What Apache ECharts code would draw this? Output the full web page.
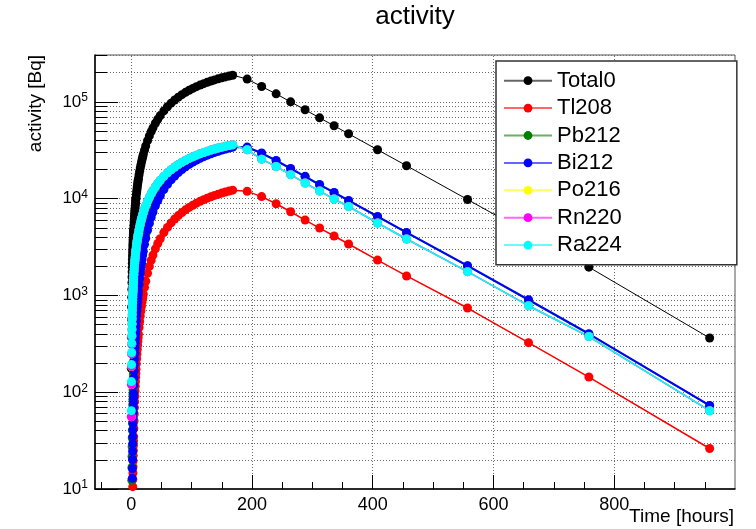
<!DOCTYPE html>
<html><head><meta charset="utf-8">
<script src="https://cdn.jsdelivr.net/npm/echarts@6/dist/echarts.min.js"></script>
<style>html,body{margin:0;padding:0;background:#fff}#c{width:756px;height:529px}</style>
</head><body><div id="c"></div>
<script>
// time points [hours]
const hours = [0.1667,0.3333,0.5,0.6667,0.8333,1,1.1667,1.3333,1.5,1.6667,1.8333,2,2.1667,2.3333,2.5,2.6667,2.8333,3,3.1667,3.3333,3.5,3.6667,3.8333,4,
  4.3333,4.6667,5,5.3333,5.6667,6,6.3333,6.6667,7,7.3333,7.6667,8,
  8.5,9,9.5,10,10.5,11,11.5,12,
  13,14,15,16,17,18,19,20,
  22,24,27,30,33,36,40,44,48,
  54,60,66,72,78,84,90,96,102,108,114,120,126,132,138,144,150,156,162,168,
  192,216,240,264,288,312,336,360,408,456,557,658,758,958];

const total0 = [176.5,370.8,565.8,761.4,957.8,1154.9,1353.0,1551.9,1751.7,1952.5,2154.3,2357.0,2560.8,2765.6,2971.3,3178.4,3386.2,3595.0,3805.0,4016.0,4228.0,4440.9,4654.9,4869.8,
  5303.0,5739.9,6180.8,6625.4,7073.5,7525.3,7980.6,8439.4,8901.6,9366.6,9834.8,10305.8,
  11018.2,11736.7,12461.1,13191.2,13926.7,14667.2,15412.3,16161.4,
  17673.7,19200.2,20740.2,22292,23853.6,25423.5,27000.7,28583.9,
  31762.5,34951.6,39737.6,44509,49246,53942,60112,66162,72083,
  80699,88986,96930,104542,111819,118772,125416,131758,137814,143590,149100,154359,159375,164159,168721,173074,177225,181185,184964,188564,
  172000,144000,121000,100000,82800,68400,56600,46800,32000,21900,9800,4370,1960,363];

const tl208 = [0.00465,0.0361,0.1182,0.2718,0.5153,0.8648,1.334,1.936,2.680,3.576,4.633,5.855,7.249,8.816,10.57,12.50,14.62,16.94,19.44,22.13,25.01,28.09,31.35,34.81,
  42.30,50.57,59.59,69.33,79.82,91.00,102.9,115.5,128.8,142.7,157.3,172.5,
  196.4,221.7,248.3,276.1,305.1,335.3,366.5,398.8,
  466.4,537.8,612.6,690.6,771.5,855.0,940.9,1029.1,
  1211,1400,1693,1995,2302,2612,3028,3442,3853,
  4457,5044,5611,6157,6681,7182,7662,8121,8559,8978,9377,9758,10122,10469,10800,11115,11416,11704,11978,12239,
  11900,10500,8860,7320,6010,4970,4110,3400,2320,1590,741,325,143.5,26.2];

const pb212 = [0.349,1.389,3.114,5.514,8.578,12.31,16.68,21.70,27.36,33.64,40.54,48.06,56.17,64.89,74.20,84.08,94.54,105.6,117.2,129.3,142.0,155.2,169.0,183.3,
  213.5,245.6,279.8,315.9,353.8,393.7,435.2,478.6,523.7,570.3,618.6,668.5,
  746.1,827.1,911.3,998.6,1088.6,1181.6,1277.3,1375.6,
  1579.5,1792.6,2014.1,2243.4,2479.7,2722.4,2971.0,3224.9,
  3747,4285,5114,5962,6822,7689,8846,9996,11133,
  12804,14425,15988,17492,18934,20315,21636,22898,24104,25255,26354,27402,28402,29357,30267,31135,31963,32754,33507,34226,
  33700,29200,24500,20300,16800,13800,11500,9470,6470,4430,2010,892,397,72.2];

const bi212 = [0.01295,0.1004,0.3288,0.7562,1.434,2.406,3.712,5.386,7.457,9.950,12.89,16.29,20.17,24.53,29.41,34.79,40.69,47.12,54.08,61.57,69.59,78.15,87.24,96.87,
  117.7,140.7,165.8,192.9,222.1,253.2,286.4,321.4,358.3,397.1,437.6,479.9,
  546.6,617.0,690.9,768.3,849.0,932.9,1019.8,1109.7,
  1297.8,1496.4,1704.5,1921.5,2146.5,2378.9,2618.1,2863.5,
  3371,3896,4711,5551,6405,7269,8425,9578,10720,
  12402,14035,15613,17131,18588,19983,21319,22595,23815,24979,26090,27151,28163,29128,30049,30927,31765,32564,33327,34054,
  34100,29600,24800,20500,17000,14000,11600,9580,6550,4480,2030,903,402,73.1];

const po216 = [55.85,120.23,184.53,248.74,312.87,376.91,440.87,504.75,568.52,632.25,695.87,759.4,822.87,886.25,949.5,1012.8,1075.9,1138.9,1201.9,1264.8,1327.6,1390.3,1452.9,1515.4,
  1640.3,1764.8,1889.0,2012.9,2136.4,2259.6,2382.5,2505.1,2627.4,2749.3,2870.9,2992.1,
  3173.5,3354.1,3534.0,3713.2,3891.8,4069.6,4246.7,4422.9,
  4773.8,5121.6,5466.8,5809.3,6149.1,6486.2,6820.7,7152.6,
  7808,8454,9404,10331,11236,12121,13268,14379,15456,
  17009,18491,19903,21251,22536,23761,24930,26045,27109,28123,29090,30013,30893,31732,32532,33296,34024,34718,35381,36012,
  32000,25600,21500,17700,14500,12000,9910,8300,5600,3830,1760,783,376,64.4];

const rn220 = [55.85,120.23,184.53,248.74,312.87,376.91,440.87,504.75,568.52,632.25,695.87,759.4,822.87,886.25,949.5,1012.8,1075.9,1138.9,1201.9,1264.8,1327.6,1390.3,1452.9,1515.4,
  1640.3,1764.8,1889.0,2012.9,2136.4,2259.6,2382.5,2505.1,2627.4,2749.3,2870.9,2992.1,
  3173.5,3354.1,3534.0,3713.2,3891.8,4069.6,4246.7,4422.9,
  4773.8,5121.6,5466.8,5809.3,6149.1,6486.2,6820.7,7152.6,
  7808,8454,9404,10331,11236,12121,13268,14379,15456,
  17009,18491,19903,21251,22536,23761,24930,26045,27109,28123,29090,30013,30893,31732,32532,33296,34024,34718,35381,36012,
  32000,25600,21500,17700,14500,12000,9910,8300,5600,3830,1760,783,376,64.4];

const ra224 = [64.47,128.85,193.15,257.36,321.49,385.53,449.49,513.37,577.14,640.87,704.49,768.0,831.49,894.87,958.1,1021.4,1084.5,1147.5,1210.5,1273.4,1336.2,1398.9,1461.5,1524.0,
  1648.9,1773.4,1897.6,2021.5,2145.0,2268.2,2391.1,2513.7,2636.0,2757.9,2879.5,3000.7,
  3182.1,3362.7,3542.6,3721.8,3900.4,4078.2,4255.3,4431.5,
  4782.4,5130.2,5475.4,5817.9,6157.7,6494.8,6829.3,7161.2,
  7817,8463,9412,10340,11245,12130,13277,14388,15465,
  17018,18500,19912,21260,22545,23770,24939,26054,27118,28132,29099,30022,30902,31741,32541,33305,34033,34727,35390,36021,
  32000,25600,21500,17700,14500,12000,9910,8300,5600,3830,1760,783,376,64.4];

const seriesNames = ['Total0','Tl208','Pb212','Bi212','Po216','Rn220','Ra224'];
const xLabelValues = [0,200,400,600,800];
const xMinorTicks = [-50,50,100,150,250,300,350,450,500,550,650,700,750,850,900,950];
const yMajor = [10,100,1000,10000,100000];
const yMinor = [20,30,40,50,60,70,80,90,200,300,400,500,600,700,800,900,2000,3000,4000,5000,6000,7000,8000,9000,
  20000,30000,40000,50000,60000,70000,80000,90000,200000,300000];
const yGrid = [100,1000,10000,100000].concat(yMinor);
const X_MIN = -60, X_MAX = 1000, Y_MIN = 10, Y_MAX = 305000;

const FONT = '"Liberation Sans", Arial, Helvetica, sans-serif';
const colors = ['#000000','#ff0000','#008000','#0000ff','#ffff00','#ff00ff','#00ffff'];
const widths = [1,1.5,1.5,2,1.5,1.5,1.5];
const values = [total0,tl208,pb212,bi212,po216,rn220,ra224];

const GRID = {left:95, right:21, top:55, bottom:40};
const plotW = 756 - GRID.left - GRID.right;
const plotH = 529 - GRID.top - GRID.bottom;
const gridLine = {type:[1,2], color:'#6e6e6e', width:1};

const series = seriesNames.map((name,k)=>({
  name, type:'line', xAxisIndex:0, yAxisIndex:0,
  data: hours.map((h,i)=>[h, values[k][i]]),
  symbol:'circle', symbolSize:9, showSymbol:true, clip:true,
  lineStyle:{color:colors[k], width:widths[k]},
  itemStyle:{color:colors[k]},
  emphasis:{disabled:true}, z:2
}));

const hiddenX = {type:'value', min:X_MIN, max:X_MAX, position:'bottom', axisLine:{show:false,onZero:false}, axisLabel:{show:false}, splitLine:{show:false}};
const hiddenY = {type:'log', logBase:10, min:Y_MIN, max:Y_MAX, position:'left', axisLine:{show:false,onZero:false}, axisLabel:{show:false}, splitLine:{show:false}};

const chart = echarts.init(document.getElementById('c'), null, {renderer:'canvas'});
chart.setOption({
  animation:false,
  backgroundColor:'#fff',
  textStyle:{fontFamily:FONT},
  grid:Object.assign({show:true,borderColor:'#555',borderWidth:1,containLabel:false,outerBoundsMode:'none'}, GRID),
  xAxis:[
    Object.assign({}, hiddenX, {axisTick:{show:true,inside:true,length:plotH,customValues:xLabelValues,lineStyle:gridLine}}),
    {
      type:'value', min:X_MIN, max:X_MAX, position:'bottom',
      axisLine:{show:true,onZero:false,lineStyle:{color:'#000',width:1.5}},
      axisTick:{show:true,inside:true,length:14,customValues:xLabelValues,lineStyle:{color:'#000',width:1}},
      axisLabel:{show:true,customValues:xLabelValues,fontSize:18,color:'#000',margin:7,fontFamily:FONT},
      splitLine:{show:false}
    },
    Object.assign({}, hiddenX, {axisTick:{show:true,inside:true,length:7,customValues:xMinorTicks,lineStyle:{color:'#000',width:1}}})
  ],
  yAxis:[
    Object.assign({}, hiddenY, {axisTick:{show:true,inside:true,length:plotW,customValues:yGrid,lineStyle:gridLine}}),
    {
      type:'log', logBase:10, min:Y_MIN, max:Y_MAX, position:'left',
      axisLine:{show:true,onZero:false,lineStyle:{color:'#000',width:1.5}},
      axisTick:{show:true,inside:true,length:23,customValues:yMajor,lineStyle:{color:'#000',width:1}},
      axisLabel:{show:true,customValues:yMajor,margin:7,
        formatter:function(v){const e=Math.round(Math.log10(v));return '{b|10}{s|'+e+'}';},
        rich:{b:{fontSize:17,lineHeight:20,color:'#000',fontFamily:FONT},
              s:{fontSize:12,lineHeight:12,verticalAlign:'top',color:'#000',fontFamily:FONT}}},
      splitLine:{show:false}
    },
    Object.assign({}, hiddenY, {axisTick:{show:true,inside:true,length:12,customValues:yMinor,lineStyle:{color:'#000',width:1}}})
  ],
  legend:{
    orient:'vertical', left:496, top:61, padding:[6,115,6,7],
    itemWidth:48, itemHeight:11, itemGap:0,
    backgroundColor:'#fff', borderColor:'#333', borderWidth:1.5,
    textStyle:{fontSize:22,color:'#000',lineHeight:27.4,fontFamily:FONT},
    lineStyle:{width:2,opacity:0.6},
    selectedMode:false, z:10,
    data:seriesNames
  },
  graphic:[
    {type:'text', x:415, y:4, z:20, style:{text:'activity', font:'26px '+FONT, fill:'#000', textAlign:'center', align:'center', textVerticalAlign:'top', verticalAlign:'top'}},
    {type:'text', x:36, y:55, rotation:Math.PI/2, z:20, style:{text:'activity [Bq]', font:'19px '+FONT, fill:'#000', textAlign:'right', align:'right', textVerticalAlign:'middle', verticalAlign:'middle'}},
    {type:'text', x:734, y:517, z:20, style:{text:'Time [hours]', font:'19px '+FONT, fill:'#000', textAlign:'right', align:'right', textVerticalAlign:'middle', verticalAlign:'middle'}}
  ],
  series
});
</script></body></html>
